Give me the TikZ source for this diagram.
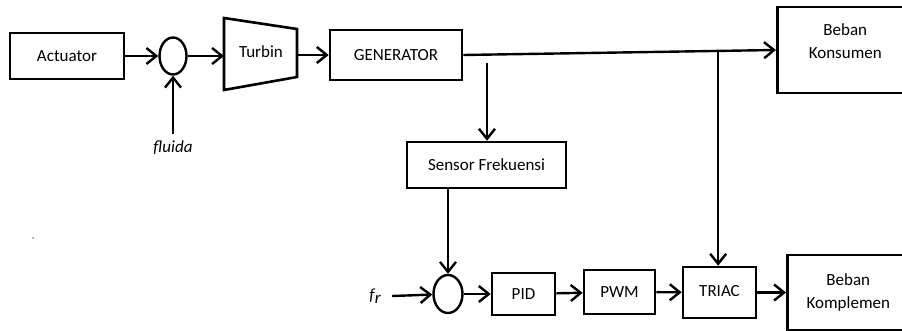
\documentclass[tikz,border=0pt]{standalone}
\usepackage{fontspec}
\setmainfont{Carlito}
\usetikzlibrary{arrows.meta,calc,positioning,shapes.geometric}

\tikzset{
  blok/.style={draw,line width=2.6pt,inner sep=0pt,align=center},
  sumcirc/.style={draw,ellipse,line width=2.4pt,inner sep=0pt},
  arr/.style={line width=2.4pt,-{Straight Barb[length=10pt,width=16pt,line width=2.4pt]}}
}

\begin{document}
\begin{tikzpicture}[x=1pt,y=-1pt,font=\fontsize{17}{23}\selectfont]
      \useasboundingbox (0,0) rectangle (902,331);

      % upper loop
      \node[blok,minimum width=114pt,minimum height=46pt] (act) at (67,56) {Actuator};
      \node[sumcirc,minimum width=27pt,minimum height=37pt] (sum1) at (173,56) {};
      \node (fluida) at (173,148) {\textit{fluida}};
      \coordinate (flin) at (173,134);

      \draw[line width=2.6pt] (224,18) -- (297,29) -- (297,77) -- (224,90) -- cycle;
      \node (turbin) at (261,52) {Turbin};
      \coordinate (turbinin) at (224,56);
      \coordinate (turbinout) at (297,55);

      \node[blok,minimum width=132pt,minimum height=50pt] (gen) at (396,55) {GENERATOR};
      \node[blok,anchor=west,minimum width=136pt,minimum height=86pt,text depth=18pt] (bk) at (776,50) {Beban\\Konsumen};

      \draw[arr] (act) -- (sum1);
      \draw[arr] (flin) -- (sum1);
      \draw[arr] (sum1) -- (turbinin);
      \draw[arr] (turbinout) -- (gen.west |- turbinout);
      \draw[arr] (gen.east) -- (bk.west);

      \coordinate (tap1) at (487,63);
      \coordinate (tap2) at ($(gen.east)!0.815!(bk.west)$);

      % lower loop
      \node[blok,minimum width=159pt,minimum height=46pt] (sens) at (486.5,165) {Sensor Frekuensi};
      \node[sumcirc,minimum width=29pt,minimum height=38pt] (sum2) at (448,294) {};
      \node (fr) at (375,296) {\textit{f\kern0.3pt\raisebox{-2.5pt}{r}}};
      \node[blok,minimum width=63pt,minimum height=42pt] (pid) at (523.5,294) {PID};
      \node[blok,minimum width=71pt,minimum height=44pt] (pwm) at (619.5,292) {PWM};
      \node[blok,minimum width=73pt,minimum height=51pt] (triac) at (719.5,292.5) {\raisebox{4pt}{TRIAC}};
      \node[blok,anchor=west,minimum width=122pt,minimum height=75pt] (bkom) at (786,292.5) {Beban\\Komplemen};

      \draw[arr] (tap1) -- (tap1 |- sens.north);
      \draw[arr] (tap2) -- (tap2 |- triac.north);
      \draw[arr] (sum2 |- sens.south) -- (sum2);
      \draw[arr] ([xshift=8pt]fr.east) -- (sum2);
      \draw[arr] (sum2) -- (pid);
      \draw[arr] (pid) -- (pwm);
      \draw[arr] (pwm) -- (triac);
      \draw[arr] (triac) -- (bkom);

      \fill[gray] (33,238) circle (1pt);
\end{tikzpicture}
\end{document}
